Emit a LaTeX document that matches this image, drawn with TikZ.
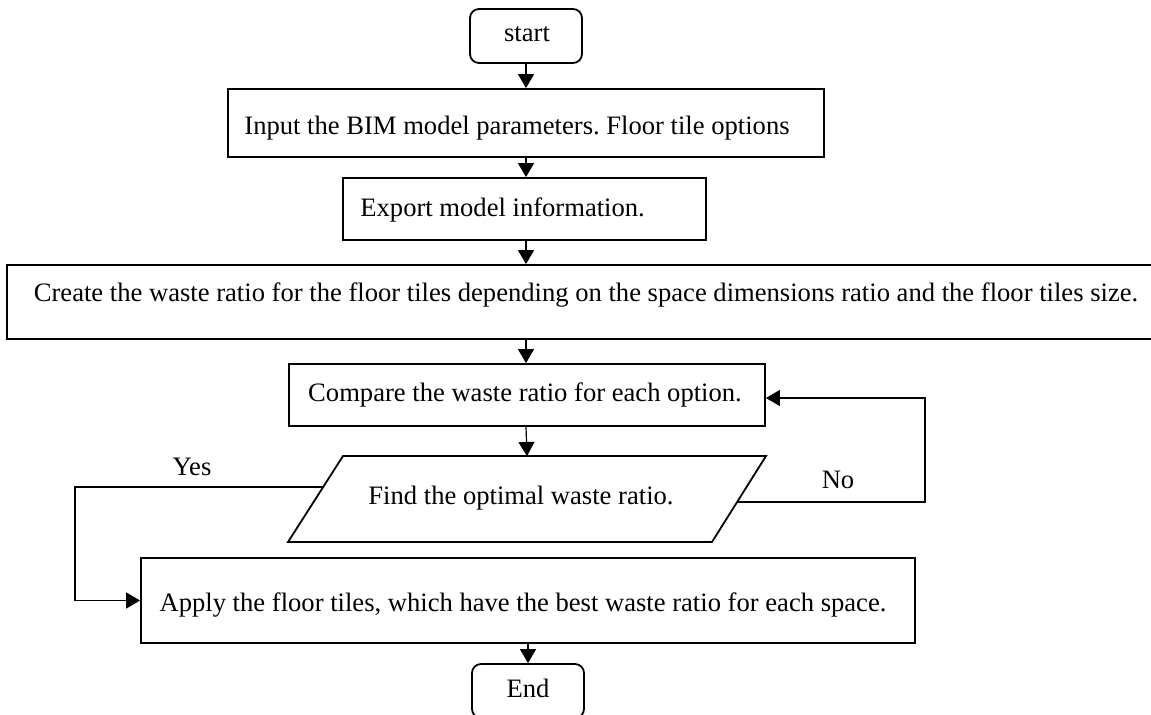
\documentclass[tikz,border=0pt]{standalone}
\usepackage{fontspec}
\setmainfont{Liberation Serif}
\usetikzlibrary{arrows.meta}
\begin{document}
\frenchspacing
\begin{tikzpicture}[x=0.5pt,y=-0.5pt,
  box/.style={draw,line width=0.9pt,rectangle,inner sep=0pt},
  term/.style={box,rounded corners=4.5pt},
  txt/.style={inner sep=0pt,font=\fontsize{13.3}{15}\selectfont},
  conn/.style={line width=0.6pt,-{Triangle[length=7pt,width=8pt]}},
  line/.style={line width=0.6pt}]
\useasboundingbox (0,0) rectangle (1151,714);
% shapes
\node[term,minimum width=56pt,minimum height=27pt] (start) at (526,36) {};
\node[box,minimum width=298pt,minimum height=34pt] (b1) at (526,123) {};
\node[box,minimum width=181.5pt,minimum height=31pt] (b2) at (524.5,209) {};
\node[box,minimum width=575pt,minimum height=37pt] (b3) at (582,302) {};
\node[box,minimum width=238pt,minimum height=31pt] (b4) at (527,395) {};
\draw[line width=0.9pt] (343,456) -- (766,456) -- (712,542) -- (288,542) -- cycle;
\coordinate (paraT) at (527,456);
\coordinate (paraL) at (324,487);
\coordinate (paraR) at (737,502);
\node[box,minimum width=387pt,minimum height=42.5pt] (b6) at (528,600.5) {};
\node[term,minimum width=56pt,minimum height=27pt] (end) at (528,691) {};
% texts
\node[txt] (tstart) at (527,34) {start};
\node[txt,anchor=west] (t1) at (244,128) {Input the BIM model parameters. Floor tile options};
\node[txt,anchor=west] (t2) at (360,210) {Export model information.};
\node[txt] (t3) at (586,295) {Create the waste ratio for the floor tiles depending on the space dimensions ratio and the floor tiles size.};
\node[txt] (t4) at (525,395) {Compare the waste ratio for each option.};
\node[txt] (t5) at (521,498) {Find the optimal waste ratio.};
\node[txt] (t6) at (523,605) {Apply the floor tiles, which have the best waste ratio for each space.};
\node[txt] (tend) at (528,688) {End};
\node[txt] (yes) at (192,467) {Yes};
\node[txt] (no) at (838,480) {No};
% connectors
\draw[conn] (start.south) -- (start.south |- b1.north);
\draw[conn] (b1.south) -- (b1.south |- b2.north);
\draw[conn] (start.south |- b2.south) -- (start.south |- b3.north);
\draw[conn] (start.south |- b3.south) -- (start.south |- b4.north);
\draw[conn] (start.south |- b4.south) -- (paraT);
\coordinate (yesC) at (75,487);
\draw[conn] (paraL) -- (yesC) |- (b6.west);
\coordinate (noC) at (925,502);
\draw[conn] (paraR) -- (noC) |- ([yshift=-1.5pt]b4.east);
\draw[conn] (b6.south) -- (b6.south |- end.north);
\end{tikzpicture}
\end{document}
